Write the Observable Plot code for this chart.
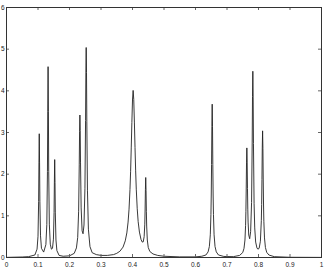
<!DOCTYPE html>
<html>
<head>
<meta charset="utf-8">
<script src="https://cdn.jsdelivr.net/npm/d3@7"></script>
<script src="https://cdn.jsdelivr.net/npm/@observablehq/plot@0.6"></script>
<style>
  html, body { margin: 0; padding: 0; background: #fff; }
  #chart { width: 327px; height: 269px; overflow: hidden; }
</style>
</head>
<body>
<div id="chart"></div>
<script>
// Frequency (normalized) and power values
const freq = [
  0, 0.05, 0.07, 0.09, 0.097, 0.1, 0.102, 0.103, 0.104, 0.105, 0.106, 0.108, 0.111,
  0.118, 0.125, 0.128, 0.13, 0.131, 0.132, 0.133, 0.134, 0.136, 0.139, 0.1425,
  0.146, 0.149, 0.151, 0.152, 0.153, 0.154, 0.155, 0.157, 0.16, 0.167, 0.18, 0.2,
  0.215, 0.222, 0.226, 0.229, 0.231, 0.232, 0.233, 0.234, 0.235, 0.237, 0.24, 0.243,
  0.246, 0.249, 0.251, 0.252, 0.253, 0.254, 0.255, 0.257, 0.26, 0.265, 0.272, 0.285,
  0.3, 0.32, 0.34, 0.35, 0.36, 0.37, 0.377, 0.382, 0.386, 0.389, 0.392, 0.394, 0.396,
  0.398, 0.4, 0.402, 0.404, 0.406, 0.408, 0.41, 0.412, 0.415, 0.418, 0.422, 0.427,
  0.431, 0.434, 0.437, 0.439, 0.44, 0.441, 0.442, 0.443, 0.444, 0.445, 0.447, 0.45,
  0.455, 0.465, 0.48, 0.5, 0.55, 0.6, 0.62, 0.633, 0.64, 0.644, 0.647, 0.649, 0.65,
  0.651, 0.652, 0.653, 0.654, 0.655, 0.656, 0.657, 0.659, 0.662, 0.666, 0.673, 0.69,
  0.72, 0.74, 0.75, 0.754, 0.757, 0.759, 0.76, 0.761, 0.762, 0.763, 0.764, 0.765,
  0.766, 0.767, 0.769, 0.772, 0.775, 0.778, 0.78, 0.781, 0.782, 0.783, 0.784, 0.786,
  0.788, 0.791, 0.795, 0.798, 0.802, 0.806, 0.809, 0.81, 0.811, 0.812, 0.813, 0.814,
  0.815, 0.816, 0.817, 0.819, 0.822, 0.826, 0.833, 0.85, 0.9, 1
];
const power = [
  0.003, 0.012, 0.02, 0.06, 0.20, 0.51, 1.34, 2.27, 2.97, 2.27, 1.34, 0.52, 0.22,
  0.13, 0.31, 0.79, 2.06, 3.51, 4.58, 3.51, 2.06, 0.80, 0.32, 0.20,
  0.22, 0.44, 1.08, 1.81, 2.35, 1.80, 1.07, 0.42, 0.165, 0.05, 0.03, 0.04,
  0.10, 0.23, 0.48, 1.11, 2.24, 3.03, 3.42, 3.05, 2.27, 1.19, 0.64, 0.57,
  0.78, 1.65, 3.29, 4.45, 5.04, 4.44, 3.27, 1.60, 0.68, 0.26, 0.115, 0.07,
  0.05, 0.05, 0.07, 0.10, 0.15, 0.25, 0.40, 0.59, 0.85, 1.16, 1.63, 2.07, 2.63,
  3.24, 3.78, 4.01, 3.79, 3.25, 2.64, 2.08, 1.64, 1.17, 0.86, 0.61, 0.435,
  0.37, 0.375, 0.50, 0.80, 1.14, 1.63, 1.92, 1.61, 1.11, 0.755, 0.42, 0.24,
  0.145, 0.085, 0.05, 0.03, 0.015, 0.015, 0.03, 0.06, 0.135, 0.265, 0.545, 1.03, 1.50,
  2.23, 3.15, 3.68, 3.15, 2.23, 1.50, 1.03, 0.545, 0.265, 0.135, 0.06, 0.025,
  0.02, 0.05, 0.12, 0.22, 0.42, 0.77, 1.11, 1.62, 2.27, 2.63, 2.29, 1.66,
  1.16, 0.85, 0.54, 0.45, 0.62, 1.32, 2.75, 3.86, 4.47, 3.85, 2.74, 1.30,
  0.71, 0.37, 0.23, 0.20, 0.22, 0.39, 0.89, 1.27, 1.87, 2.63, 3.04, 2.62,
  1.86, 1.26, 0.87, 0.47, 0.24, 0.125, 0.06, 0.02, 0.005, 0.002
];
const xTicks = [0, 0.1, 0.2, 0.3, 0.4, 0.5, 0.6, 0.7, 0.8, 0.9, 1];
const xTickLabels = ["0", "0.1", "0.2", "0.3", "0.4", "0.5", "0.6", "0.7", "0.8", "0.9", "1"];
const yTicks = [0, 1, 2, 3, 4, 5, 6];
const yTickLabels = ["0", "1", "2", "3", "4", "5", "6"];

const table = freq.map((f, i) => ({f, p: power[i]}));

const W = 327, H = 269;
const mL = 6, mR = 6, mT = 7, mB = 12;
const innerW = W - mL - mR, innerH = H - mT - mB;
const tickLen = 3;

const chart = Plot.plot({
  width: W,
  height: H,
  marginLeft: mL,
  marginRight: mR,
  marginTop: mT,
  marginBottom: mB,
  style: {fontFamily: "'Liberation Sans', Helvetica, Arial, sans-serif", fontSize: "6.5px", background: "#fff", color: "#222", overflow: "visible"},
  x: {domain: [0, 1]},
  y: {domain: [0, 6]},
  marks: [
    Plot.line(table, {x: "f", y: "p", stroke: "#222", strokeWidth: 0.9}),
    Plot.tickX(xTicks, {x: d => d, insetTop: innerH - tickLen, stroke: "#666"}),
    Plot.tickX(xTicks, {x: d => d, insetBottom: innerH - tickLen, stroke: "#666"}),
    Plot.tickY(yTicks, {y: d => d, insetRight: innerW - tickLen, stroke: "#666"}),
    Plot.tickY(yTicks, {y: d => d, insetLeft: innerW - tickLen, stroke: "#666"}),
    Plot.frame({stroke: "#333", strokeWidth: 1}),
    Plot.axisX({ticks: xTicks, tickSize: 0, tickPadding: 4.5, label: null,
      tickFormat: d => xTickLabels[xTicks.indexOf(d)]}),
    Plot.axisY({ticks: yTicks, tickSize: 0, tickPadding: 2, label: null,
      tickFormat: d => yTickLabels[yTicks.indexOf(d)]})
  ]
});
document.getElementById("chart").appendChild(chart);
</script>
</body>
</html>
